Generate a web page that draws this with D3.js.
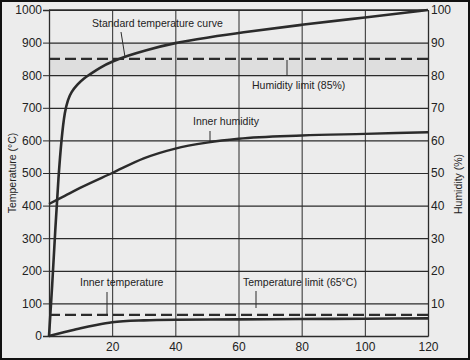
<!DOCTYPE html>
<html><head><meta charset="utf-8">
<script src="https://cdn.jsdelivr.net/npm/d3@7"></script>
<style>
html,body{margin:0;padding:0;background:#ebebeb;}
svg{display:block;font-family:"Liberation Sans",Arial,sans-serif;}
</style></head>
<body><svg id="c" width="470" height="360"></svg>
<script>
// Data
const timeTicks = [20, 40, 60, 80, 100, 120];
const tempTicks = [0,100,200,300,400,500,600,700,800,900,1000];
const humTicks = [10,20,30,40,50,60,70,80,90,100];
const stdTime = [0,1,2,3,4,5,6,7,9,11,13,16,20,25,30,40,50,60,80,100,120];
const stdTemp = [0,150,330,490,610,690,725,748,772,790,803,823,842,860,875,900,915,930,955,977,1000];
const humTime = [0,5,10,20,30,40,50,60,80,100,120];
const humVal  = [40.5,43,45.5,50,54.5,57.5,59.3,60.5,61.5,62,62.5];
const inTime = [0,5,10,15,20,30,40,60,80,100,120];
const inTemp = [0,12,24,34,42,48,50,51,52,53,54];
const humidityLimit = 85;
const tempLimit = 65;

const svg = d3.select("#c");
const W = 470, H = 360;
const x = d3.scaleLinear([0,120],[49,428]);
const yL = d3.scaleLinear([0,1000],[336,10]);
const yR = d3.scaleLinear([0,100],[336,10]);
const ink = "#2b2b2b";

// background and shaded band
svg.append("rect").attr("width",W).attr("height",H).attr("fill","#ececec");
svg.append("rect").attr("x",x(0)).attr("y",yL(900)).attr("width",x(120)-x(0)).attr("height",yL(800)-yL(900)).attr("fill","#dedede");

// grid
const g = svg.append("g");
g.append("g").attr("transform",`translate(${x(0)},0)`)
 .call(d3.axisLeft(yL).tickValues(tempTicks).tickSize(-(x(120)-x(0))).tickFormat(""))
 .call(s=>{s.select(".domain").remove();s.selectAll("line").attr("stroke",ink).attr("stroke-width",1.2);});
g.append("g").attr("transform",`translate(0,${yL(0)})`)
 .call(d3.axisBottom(x).tickValues(timeTicks).tickSize(-(yL(0)-yL(1000))).tickFormat(""))
 .call(s=>{s.select(".domain").remove();s.selectAll("line").attr("stroke",ink).attr("stroke-width",1);});

// left axis
const la = svg.append("g").attr("transform",`translate(${x(0)},0)`)
 .call(d3.axisLeft(yL).tickValues(tempTicks).tickSize(6).tickPadding(1).tickFormat(d3.format("d")));
la.select(".domain").attr("stroke",ink).attr("stroke-width",1.3);
la.selectAll("line").attr("stroke",ink);
la.selectAll("text").attr("font-size",12).attr("fill","#222");

// right axis
const ra = svg.append("g").attr("transform",`translate(${x(120)},0)`)
 .call(d3.axisRight(yR).tickValues(humTicks).tickSize(0).tickPadding(3).tickFormat(d3.format("d")));
ra.select(".domain").attr("stroke",ink).attr("stroke-width",1.3);
ra.selectAll("text").attr("font-size",12).attr("fill","#222");

// bottom axis
const ba = svg.append("g").attr("transform",`translate(0,${yL(0)})`)
 .call(d3.axisBottom(x).tickValues(timeTicks).tickSize(0).tickPadding(6).tickFormat(d3.format("d")));
ba.select(".domain").attr("stroke",ink).attr("stroke-width",1.3);
ba.selectAll("text").attr("font-size",12).attr("fill","#222");

// top border
svg.append("line").attr("x1",x(0)).attr("x2",x(120)).attr("y1",yL(1000)).attr("y2",yL(1000)).attr("stroke",ink).attr("stroke-width",1.3);

// axis titles
svg.append("text").attr("transform",`translate(16,${173}) rotate(-90)`).attr("text-anchor","middle")
 .attr("font-size",10.5).attr("fill","#222").text("Temperature (°C)");
svg.append("text").attr("transform",`translate(462,${184}) rotate(-90)`).attr("text-anchor","middle")
 .attr("font-size",10.5).attr("fill","#222").text("Humidity (%)");

// dashed limits
svg.append("line").attr("x1",x(0)).attr("x2",x(120)).attr("y1",yR(humidityLimit)).attr("y2",yR(humidityLimit))
 .attr("stroke",ink).attr("stroke-width",2.2).attr("stroke-dasharray","11,5");
svg.append("line").attr("x1",x(0)).attr("x2",x(120)).attr("y1",yL(tempLimit)).attr("y2",yL(tempLimit))
 .attr("stroke",ink).attr("stroke-width",2.2).attr("stroke-dasharray","11,5");

// curves
const lineL = d3.line().x(d=>x(d[0])).y(d=>yL(d[1])).curve(d3.curveMonotoneX);
const lineStd = d3.line().x(d=>x(d[0])).y(d=>yL(d[1])).curve(d3.curveBasis);
const lineR = d3.line().x(d=>x(d[0])).y(d=>yR(d[1])).curve(d3.curveMonotoneX);
svg.append("path").datum(stdTime.map((t,i)=>[t,stdTemp[i]])).attr("d",lineStd)
 .attr("fill","none").attr("stroke",ink).attr("stroke-width",2.6);
svg.append("path").datum(humTime.map((t,i)=>[t,humVal[i]])).attr("d",lineR)
 .attr("fill","none").attr("stroke",ink).attr("stroke-width",2.4);
svg.append("path").datum(inTime.map((t,i)=>[t,inTemp[i]])).attr("d",lineL)
 .attr("fill","none").attr("stroke",ink).attr("stroke-width",2.6);

// annotations
const ann = [
 {t:"Standard temperature curve", x:92, y:27, l:[121,32,125,57]},
 {t:"Humidity limit (85%)", x:252, y:89, l:[287,60,287,76]},
 {t:"Inner humidity", x:193, y:125, l:[210,131,210,142]},
 {t:"Inner temperature", x:80, y:286, l:[107,292,107,315]},
 {t:"Temperature limit (65°C)", x:243, y:286, l:[256,291,256,308]}
];
ann.forEach(a=>{
  svg.append("text").attr("x",a.x).attr("y",a.y).attr("font-size",10.5).attr("fill","#222").text(a.t);
  svg.append("line").attr("x1",a.l[0]).attr("y1",a.l[1]).attr("x2",a.l[2]).attr("y2",a.l[3]).attr("stroke",ink).attr("stroke-width",1);
});

// frame
svg.append("rect").attr("x",1).attr("y",1).attr("width",W-2).attr("height",H-2).attr("fill","none").attr("stroke","#111").attr("stroke-width",2);
</script></body></html>
